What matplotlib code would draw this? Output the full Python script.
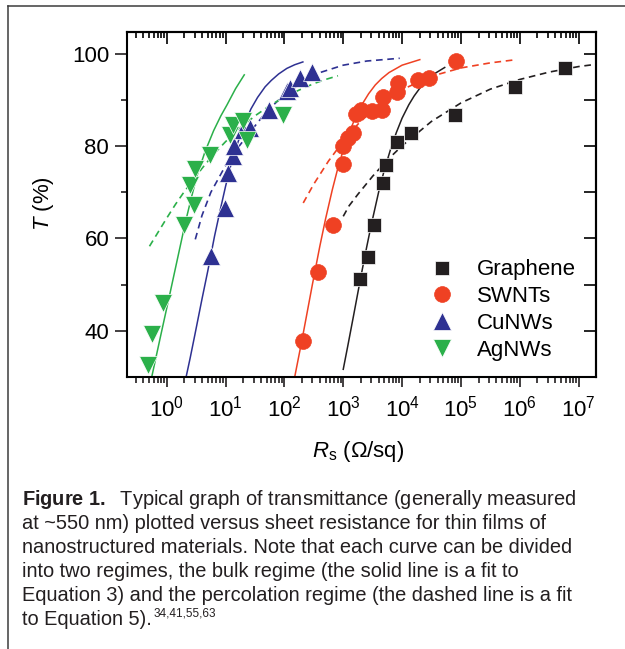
import numpy as np
import matplotlib
matplotlib.use("Agg")
import matplotlib.pyplot as plt
from matplotlib.lines import Line2D

plt.rcParams["font.family"] = ["Liberation Sans", "DejaVu Sans"]
plt.rcParams["mathtext.fontset"] = "custom"
plt.rcParams["mathtext.rm"] = "Liberation Sans"
plt.rcParams["mathtext.it"] = "Liberation Sans:italic"
plt.rcParams["mathtext.bf"] = "Liberation Sans:bold"

# measured points
graphene_R = [1.9e3, 2.6e3, 3.3e3, 4.7e3, 5.4e3, 8.2e3, 1.4e4, 7.9e4, 8.4e5, 5.8e6]
graphene_T = [51.1, 56.0, 62.9, 72.0, 75.9, 80.9, 82.9, 86.8, 92.9, 97.0]

swnt_R = [209, 366, 658, 973, 1000, 1210, 1470, 1680, 2040, 3030, 4470, 4650,
          8200, 8500, 1.85e4, 2.85e4, 8.3e4]
swnt_T = [37.7, 52.8, 63.0, 76.2, 80.0, 81.8, 82.9, 86.9, 87.9, 87.7, 87.9, 90.8,
          91.7, 93.7, 94.4, 94.8, 98.4]

cunw_R = [5.7, 9.7, 11.1, 13.2, 13.9, 20, 26, 55, 109, 124, 183, 300]
cunw_T = [56.1, 66.6, 74.2, 77.8, 80.0, 83.6, 84.0, 87.9, 91.9, 92.6, 94.8, 96.2]

agnw_R = [0.49, 0.556, 0.875, 1.97, 2.94, 2.49, 3.0, 5.43, 11.9, 13.5, 19.9, 22.8, 95]
agnw_T = [32.6, 39.2, 46.0, 63.0, 67.3, 71.7, 75.0, 78.2, 82.5, 84.7, 85.4, 81.4, 86.8]

# bulk regime (solid) curves
graphene_bulk_R = [1000, 1200, 1500, 2000, 2500, 3000, 4000, 5000, 6500, 8000,
                   1e4, 1.3e4, 1.6e4, 2e4, 2.6e4, 3.5e4, 5.3e4]
graphene_bulk_T = [31.6, 36.8, 43.3, 51.8, 58.1, 63.0, 70.1, 74.9, 79.7, 83.0,
                   86.1, 89.0, 90.9, 92.6, 94.3, 95.7, 97.1]

swnt_bulk_R = [150, 200, 250, 300, 400, 500, 650, 800, 1000, 1200, 1500, 2000,
               2700, 3500, 4500, 6000, 1e4, 2e4]
swnt_bulk_T = [30.0, 38.1, 44.7, 50.1, 58.3, 64.2, 70.5, 75.0, 79.2, 82.2, 85.3,
               88.7, 91.4, 93.3, 94.7, 96.0, 97.6, 98.8]

cunw_bulk_R = [2.15, 2.5, 3, 4, 5, 6.5, 8, 10, 12, 15, 20, 27, 35, 47, 60, 80,
               110, 150, 206]
cunw_bulk_T = [30.1, 34.0, 39.0, 47.0, 53.0, 60.5, 65.8, 71.3, 75.4, 79.6, 84.2,
               88.1, 90.6, 92.9, 94.3, 95.7, 96.9, 97.7, 98.3]

agnw_bulk_R = [0.56, 0.79, 1.12, 1.58, 2.07, 2.63, 3.27, 4.47, 6.28, 8.32, 10.6,
               14.8, 20.8]
agnw_bulk_T = [30.1, 38.9, 47.7, 56.5, 63.4, 68.9, 73.6, 78.8, 83.4, 86.6, 89.0,
               92.5, 95.5]

# percolation regime (dashed) curves
graphene_perc_R = [1e3, 1.26e3, 1.78e3, 3.16e3, 5.6e3, 1e4, 3.16e4, 1e5, 3.16e5,
                   1e6, 3.16e6, 1e7, 2e7]
graphene_perc_T = [64.8, 67.1, 69.6, 73.5, 77.0, 80.1, 85.4, 89.4, 92.4, 94.5,
                   96.1, 97.3, 97.8]

swnt_perc_R = [209, 316, 562, 1000, 1778, 3162, 5623, 1e4, 3.16e4, 1e5, 3.16e5, 8.7e5]
swnt_perc_T = [67.7, 71.8, 76.8, 81.1, 84.8, 87.8, 90.3, 92.3, 95.2, 97.0, 98.1, 98.8]

cunw_perc_R = [3.06, 3.98, 5.62, 10, 15.8, 25.1, 50.1, 100, 200, 427, 1000, 2512, 9120]
cunw_perc_T = [59.8, 65.0, 70.0, 75.8, 79.5, 82.8, 87.6, 91.2, 93.8, 96.1, 97.6,
               98.5, 99.1]

agnw_perc_R = [0.51, 1.0, 1.41, 2.0, 3.98, 6.31, 10, 17.8, 31.6, 56.2, 100, 178,
               316, 501, 813]
agnw_perc_T = [58.3, 64.4, 67.4, 70.2, 75.2, 78.3, 81.0, 84.0, 86.6, 88.8, 90.7,
               92.2, 93.6, 94.5, 95.3]

labels = ["Graphene", "SWNTs", "CuNWs", "AgNWs"]
colors = ["#231f20", "#ef4123", "#2e3192", "#2bb04a"]
markers = ["s", "o", "^", "v"]
msizes = [10.0, 11.4, 12.4, 12.4]

fig = plt.figure(figsize=(6.25, 6.49), dpi=100)
ax = fig.add_axes([0.2027, 0.4196, 0.7504, 0.5311])

sets = [
    (graphene_R, graphene_T, graphene_bulk_R, graphene_bulk_T, graphene_perc_R, graphene_perc_T),
    (swnt_R, swnt_T, swnt_bulk_R, swnt_bulk_T, swnt_perc_R, swnt_perc_T),
    (cunw_R, cunw_T, cunw_bulk_R, cunw_bulk_T, cunw_perc_R, cunw_perc_T),
    (agnw_R, agnw_T, agnw_bulk_R, agnw_bulk_T, agnw_perc_R, agnw_perc_T),
]

handles = []
for (r, t, br, bt, pr, pt), lab, c, m, ms in zip(sets, labels, colors, markers, msizes):
    ax.plot(br, bt, color=c, lw=1.1, zorder=2)
    ax.plot(pr, pt, color=c, lw=1.2, dashes=(4, 2.8), zorder=2)
    mec = c if m == "o" else "white"
    h, = ax.plot(r, t, ls="none", marker=m, ms=ms, color=c, mec=mec, mew=0.5,
                 zorder=3, label=lab)
    handles.append(h)

ax.set_xscale("log")
ax.set_xlim(10 ** -0.68, 10 ** 7.29)
ax.set_ylim(30, 104.8)
ax.set_yticks([40, 60, 80, 100])
ax.set_yticks([50, 70, 90], minor=True)
ax.xaxis.set_major_locator(matplotlib.ticker.LogLocator(base=10, numticks=20))
ax.xaxis.set_minor_locator(matplotlib.ticker.LogLocator(base=10, subs=np.arange(2, 10), numticks=20))
ax.xaxis.set_minor_formatter(matplotlib.ticker.NullFormatter())

for s in ax.spines.values():
    s.set_linewidth(1.5)
ax.tick_params(which="both", labelsize=16, width=1.2, color="#231f20")
ax.tick_params(axis="x", which="major", direction="out", length=7.5, pad=6)
ax.tick_params(axis="x", which="minor", direction="out", length=4.3)
ax.tick_params(axis="y", which="major", direction="out", length=8.6, pad=4)
ax.tick_params(axis="y", which="minor", direction="out", length=4.6)
sec_x = ax.secondary_xaxis("top")
sec_x.set_xscale("log")
sec_x.xaxis.set_major_locator(matplotlib.ticker.LogLocator(base=10, numticks=20))
sec_x.xaxis.set_minor_locator(matplotlib.ticker.LogLocator(base=10, subs=np.arange(2, 10), numticks=20))
sec_x.tick_params(which="major", direction="in", length=8.6, width=1.2, labeltop=False)
sec_x.tick_params(which="minor", direction="in", length=4.3, width=1.2)
sec_x.xaxis.set_major_formatter(matplotlib.ticker.NullFormatter())
sec_x.xaxis.set_minor_formatter(matplotlib.ticker.NullFormatter())
sec_x.spines["top"].set_linewidth(1.5)
sec_y = ax.secondary_yaxis("right")
sec_y.set_yticks([40, 60, 80, 100])
sec_y.set_yticks([50, 70, 90], minor=True)
sec_y.tick_params(which="major", direction="in", length=8.6, width=1.2, labelright=False)
sec_y.tick_params(which="minor", direction="in", length=8.6, width=1.2)
sec_y.yaxis.set_major_formatter(matplotlib.ticker.NullFormatter())
sec_y.spines["right"].set_linewidth(1.5)

fig.text(43 / 625, 1 - 204 / 649, r"$\mathit{T}$ (%)", rotation=90,
         ha="center", va="center", fontsize=16)
fig.text(358 / 625, 1 - 452 / 649, r"$\mathit{R}_{\mathrm{s}}$ ($\Omega$/sq)",
         ha="center", va="center", fontsize=16)

ax.legend(handles=handles, loc="upper left", bbox_to_anchor=(0.649, 0.340),
          frameon=False, fontsize=16, handlelength=1.0, handletextpad=1.08,
          labelspacing=0.26, borderpad=0, borderaxespad=0)

caption = [
    r"$\mathbf{Figure\ 1.}$  Typical graph of transmittance (generally measured",
    "at ~550 nm) plotted versus sheet resistance for thin films of",
    "nanostructured materials. Note that each curve can be divided",
    "into two regimes, the bulk regime (the solid line is a fit to",
    "Equation 3) and the percolation regime (the dashed line is a fit",
    "to Equation 5).",
]
caption_y = [505, 529, 553, 577, 601, 625]
last = None
for line, yb in zip(caption, caption_y):
    last = fig.text(22 / 625, 1 - yb / 649, line, ha="left", va="baseline",
                    fontsize=14.4, color="#231f20")

renderer = fig.canvas.get_renderer()
bb = last.get_window_extent(renderer)
fig.text((bb.x1 + 2) / 625, (649 - 625 + 8) / 649, "34,41,55,63",
         ha="left", va="baseline", fontsize=8.5, color="#231f20")

frame_c = "#3c3c3c"
fig.add_artist(Line2D([8 / 625, 1], [1 - 6 / 649, 1 - 6 / 649], transform=fig.transFigure,
                      color=frame_c, lw=1.1))
fig.add_artist(Line2D([8 / 625, 8 / 625], [0, 1 - 6 / 649], transform=fig.transFigure,
                      color=frame_c, lw=1.1))

fig.savefig("out.png", dpi=100)
